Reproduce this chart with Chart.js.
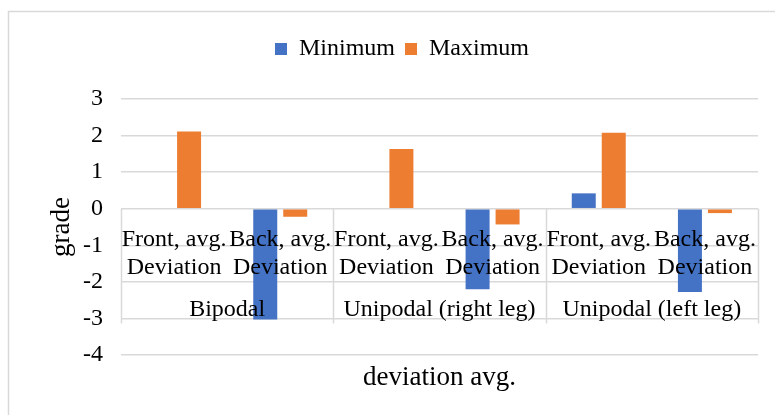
<!DOCTYPE html>
<html>
<head>
<meta charset="utf-8">
<script src="https://cdn.jsdelivr.net/npm/chart.js@4/dist/chart.umd.min.js"></script>
<style>
  html, body { margin: 0; padding: 0; background: #fff; overflow: hidden; }
  #wrap { position: relative; width: 775px; height: 415px; }
</style>
</head>
<body>
<div id="wrap"><canvas id="chart" width="775" height="415"></canvas></div>
<script>
// Outer category level (one per pair of bars)
const groups = ['Bipodal', 'Unipodal (right leg)', 'Unipodal (left leg)'];
// Inner category level, each label split over two lines
const subCategories = [['Front, avg.', 'Deviation'], ['Back, avg.', 'Deviation']];
// Series values, in order: Bipodal front/back, right leg front/back, left leg front/back
const minimumValues = [0, -3.03, 0, -2.2, 0.42, -2.28];
const maximumValues = [2.11, -0.22, 1.63, -0.43, 2.08, -0.12];
// Value axis range
const yMin = -4;
const yMax = 3;
const yStep = 1;

const categoryLabels = [];
groups.forEach(g => subCategories.forEach(s => categoryLabels.push(s.join(' ') + ' / ' + g)));

const FONT_FAMILY = "'Liberation Serif', 'Times New Roman', serif";
const TEXT = '#000000';
const GRID = '#d9d9d9';

Chart.defaults.font.family = FONT_FAMILY;
Chart.defaults.font.size = 24;
Chart.defaults.color = TEXT;

// Light frame around the whole chart
const framePlugin = {
  id: 'frame',
  beforeDraw(chart) {
    const ctx = chart.ctx;
    ctx.save();
    ctx.strokeStyle = GRID;
    ctx.lineWidth = 1.5;
    ctx.strokeRect(8.5, 11.5, 1000, 1000);
    ctx.restore();
  }
};

// Extra room under the legend
const legendSpacing = {
  id: 'legendSpacing',
  beforeInit(chart) {
    const fit = chart.legend.fit;
    chart.legend.fit = function () {
      fit.call(this);
      this.height += 28;
    };
  }
};

// Two-level category table drawn below the zero line
const categoryTable = {
  id: 'categoryTable',
  beforeDatasetsDraw(chart) {
    const {ctx, scales: {x, y}} = chart;
    const top = y.getPixelForValue(0);
    const bottom = y.getPixelForValue(-3) + 5;
    ctx.save();
    ctx.strokeStyle = GRID;
    ctx.lineWidth = 1.5;
    for (let g = 0; g <= groups.length; g++) {
      const px = Math.round(x.getPixelForValue(g * 2 - 0.5)) + 0.5;
      ctx.beginPath();
      ctx.moveTo(px, top);
      ctx.lineTo(px, bottom);
      ctx.stroke();
    }
    ctx.restore();
  },
  afterDatasetsDraw(chart) {
    const {ctx, scales: {x, y}} = chart;
    const row1 = y.getPixelForValue(-1) + 1;
    const row2 = y.getPixelForValue(-2) - 8;
    const row3 = y.getPixelForValue(-3) - 2;
    ctx.save();
    ctx.font = '24px ' + FONT_FAMILY;
    ctx.fillStyle = TEXT;
    ctx.textAlign = 'center';
    ctx.textBaseline = 'alphabetic';
    for (let i = 0; i < categoryLabels.length; i++) {
      const cx = x.getPixelForValue(i);
      const lines = subCategories[i % subCategories.length];
      ctx.fillText(lines[0], cx, row1);
      ctx.fillText(lines[1], cx, row2);
    }
    groups.forEach((g, k) => {
      const cx = x.getPixelForValue(k * 2 + 0.5);
      ctx.fillText(g, cx, row3);
    });
    ctx.restore();
  }
};

new Chart(document.getElementById('chart'), {
  type: 'bar',
  data: {
    labels: categoryLabels,
    datasets: [
      { label: 'Minimum', data: minimumValues, backgroundColor: '#4472C4', borderWidth: 0 },
      { label: 'Maximum', data: maximumValues, backgroundColor: '#ED7D31', borderWidth: 0 }
    ]
  },
  options: {
    responsive: false,
    animation: false,
    devicePixelRatio: 1,
    layout: { padding: { left: 46, right: 17, top: 27, bottom: 0 } },
    datasets: { bar: { categoryPercentage: 0.565, barPercentage: 0.8 } },
    plugins: {
      legend: {
        position: 'top',
        labels: { boxWidth: 12, boxHeight: 12, padding: 10, color: TEXT, font: { family: FONT_FAMILY, size: 24 } }
      },
      tooltip: { enabled: false }
    },
    scales: {
      x: {
        ticks: { display: false },
        grid: { display: false, drawTicks: false },
        border: { display: false },
        title: { display: true, text: 'deviation avg.', color: TEXT, font: { family: FONT_FAMILY, size: 27 }, padding: { top: 6.8, bottom: 20.8 } }
      },
      y: {
        min: yMin,
        max: yMax,
        ticks: { stepSize: yStep, padding: 18, color: TEXT, font: { family: FONT_FAMILY, size: 24 } },
        grid: { color: GRID, lineWidth: 1.5, drawTicks: false },
        border: { display: false },
        title: { display: true, text: 'grade', color: TEXT, font: { family: FONT_FAMILY, size: 27 }, padding: 0 },
        afterFit(scale) { scale.width = 75; }
      }
    }
  },
  plugins: [framePlugin, legendSpacing, categoryTable]
});
</script>
</body>
</html>
